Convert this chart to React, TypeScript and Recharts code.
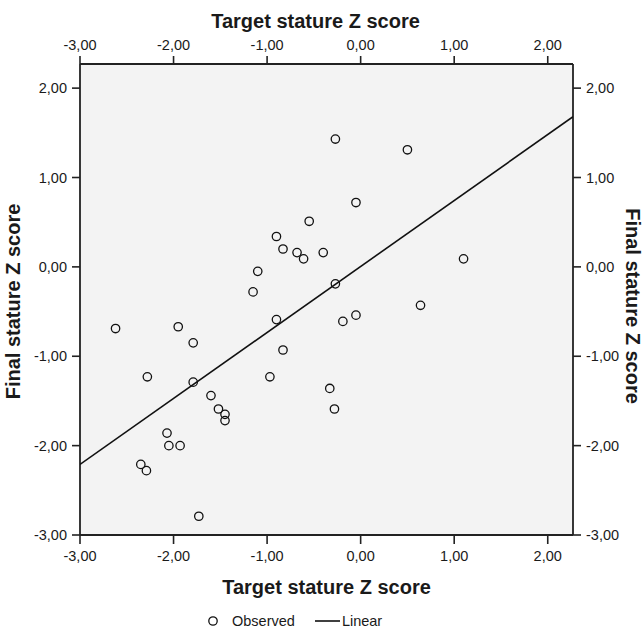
import { ScatterChart, Scatter, XAxis, YAxis, CartesianGrid, Legend, Label } from 'recharts';

// Target stature Z score (x) vs final stature Z score (y)
const observedX = [
  -0.27, 0.5, -0.05, -0.55, -0.9, -0.83, -0.68, -0.61, -0.4, 1.1, -1.1, -1.15,
  -0.27, 0.64, -2.62, -1.95, -1.79, -0.9, -0.05, -0.19, -0.83, -2.28, -0.97, -1.79,
  -0.33, -1.6, -1.52, -0.28, -1.45, -1.45, -2.07, -2.05, -1.93, -2.35, -2.29, -1.73,
];
const observedY = [
  1.43, 1.31, 0.72, 0.51, 0.34, 0.2, 0.16, 0.09, 0.16, 0.09, -0.05, -0.28,
  -0.19, -0.43, -0.69, -0.67, -0.85, -0.59, -0.54, -0.61, -0.93, -1.23, -1.23, -1.29,
  -1.36, -1.44, -1.59, -1.59, -1.65, -1.72, -1.86, -2.0, -2.0, -2.21, -2.28, -2.79,
];

// fitted linear line, read at the plot edges
const fitX = [-3, 2.27];
const fitY = [-2.21, 1.68];

const axisTicks = [-3, -2, -1, 0, 1, 2];
const axisDomain: [number, number] = [-3, 2.27];
const legendOrder = ['Observed', 'Linear'];

const observed = observedX.map((x, i) => ({ x, y: observedY[i] }));
const fit = fitX.map((x, i) => ({ x, y: fitY[i] }));

const FONT = '"Liberation Sans", Arial, sans-serif';
const INK = '#1a1a1a';
const fmt = (v: number) => v.toFixed(2).replace('.', ',');

const tickStyle = { fontFamily: FONT, fontSize: 14.5, fill: INK };
const titleStyle = { fontFamily: FONT, fontSize: 20, fontWeight: 'bold', fill: INK };
const axisLine = { stroke: '#222', strokeWidth: 1.8 };
const tickLine = { stroke: '#222', strokeWidth: 1.6 };

const OpenCircle = (props: any) => (
  <circle cx={props.cx} cy={props.cy} r={4.2} fill="none" stroke="#111" strokeWidth={1.3} />
);

const LegendBox = ({ payload }: any) => {
  const items = [...(payload ?? [])].sort(
    (a: any, b: any) => legendOrder.indexOf(a.value) - legendOrder.indexOf(b.value)
  );
  return (
    <div style={{ display: 'flex', alignItems: 'center', whiteSpace: 'nowrap', fontFamily: FONT, fontSize: 14.5, color: INK, lineHeight: '18px' }}>
      {items.map((entry: any) =>
        entry.value === 'Linear' ? (
          <span key={entry.value} style={{ display: 'flex', alignItems: 'center', marginLeft: 20 }}>
            <svg width={25} height={10}><line x1={0} y1={5} x2={25} y2={5} stroke="#111" strokeWidth={1.6} /></svg>
            <span style={{ marginLeft: 2 }}>{entry.value}</span>
          </span>
        ) : (
          <span key={entry.value} style={{ display: 'flex', alignItems: 'center' }}>
            <svg width={14} height={12}><circle cx={6} cy={6} r={4.2} fill="none" stroke="#111" strokeWidth={1.3} /></svg>
            <span style={{ marginLeft: 11 }}>{entry.value}</span>
          </span>
        )
      )}
    </div>
  );
};

export default function App() {
  return (
    <div style={{ position: 'absolute', left: 0, top: 0 }}>
      <ScatterChart width={644} height={628} margin={{ top: 20, right: 20, bottom: 20, left: 20 }}>
        <CartesianGrid xAxisId="bottom" yAxisId="left" horizontal={false} vertical={false} fill="#f3f3f3" />
        <XAxis
          xAxisId="bottom" orientation="bottom" type="number" dataKey="x"
          domain={axisDomain} ticks={axisTicks} allowDataOverflow height={73}
          tickFormatter={fmt} tick={tickStyle} axisLine={axisLine} tickLine={tickLine}
          tickSize={9} tickMargin={7}
        >
          <Label value="Target stature Z score" position="center" dy={15.5} style={titleStyle} />
        </XAxis>
        <XAxis
          xAxisId="top" orientation="top" type="number" dataKey="x"
          domain={axisDomain} ticks={axisTicks} allowDataOverflow height={44}
          tickFormatter={fmt} tick={tickStyle} axisLine={axisLine} tickLine={tickLine}
          tickSize={8} tickMargin={6}
        >
          <Label value="Target stature Z score" position="center" dx={-11} dy={-21.3} style={titleStyle} />
        </XAxis>
        <YAxis
          yAxisId="left" orientation="left" type="number" dataKey="y"
          domain={axisDomain} ticks={axisTicks} allowDataOverflow width={60}
          tickFormatter={fmt} tick={tickStyle} axisLine={axisLine} tickLine={tickLine}
          tickSize={8} tickMargin={5}
        >
          <Label value="Final stature Z score" position="center" angle={-90} dx={-36.7} dy={2} style={titleStyle} />
        </YAxis>
        <YAxis
          yAxisId="right" orientation="right" type="number" dataKey="y"
          domain={axisDomain} ticks={axisTicks} allowDataOverflow width={51}
          tickFormatter={fmt} tick={tickStyle} axisLine={axisLine} tickLine={tickLine}
          tickSize={8} tickMargin={5}
        >
          <Label value="Final stature Z score" position="center" angle={90} dx={35} dy={6.5} style={titleStyle} />
        </YAxis>
        <Scatter
          name="Observed" data={observed} xAxisId="bottom" yAxisId="left"
          shape={OpenCircle} isAnimationActive={false}
        />
        <Scatter
          name="Linear" data={fit} xAxisId="bottom" yAxisId="left"
          line={{ stroke: '#111', strokeWidth: 1.6 }} shape={() => <g />}
          isAnimationActive={false}
        />
        <Legend
          layout="horizontal" verticalAlign="middle" align="center"
          wrapperStyle={{ left: 207, top: 612, width: 220, height: 18 }}
          content={<LegendBox />}
        />
      </ScatterChart>
    </div>
  );
}
